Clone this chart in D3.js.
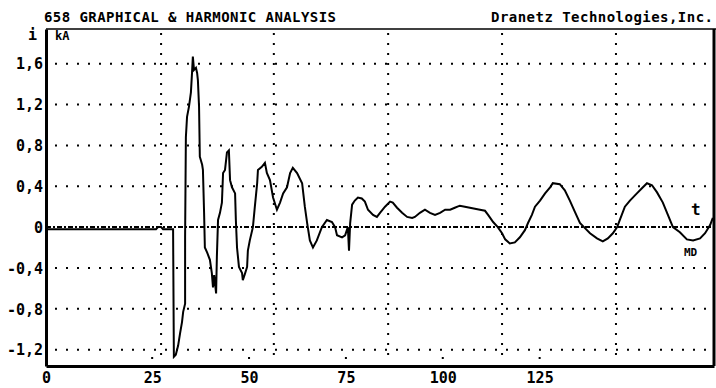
<!DOCTYPE html>
<html>
<head>
<meta charset="utf-8">
<script src="https://cdn.jsdelivr.net/npm/d3@7"></script>
<style>
  body { margin: 0; background: #fff; }
  svg text { font-family: "DejaVu Sans Mono", monospace; font-weight: bold; fill: #000; }
</style>
</head>
<body>
<script>

// time axis (ms) and current (kA)
var tValues = [-2.4, 26.0, 26.5, 27.3, 27.8, 30.4, 30.6, 31.1, 31.7, 32.2, 32.7, 33.0, 33.5, 33.5, 33.7, 34.0,
    34.5, 35.0, 35.3, 35.5, 35.8, 36.3, 36.6, 36.8, 37.1, 37.3, 37.9, 38.1, 38.4, 38.6, 39.2, 39.9, 40.4, 40.7,
    41.0, 41.5, 41.7, 42.0, 42.5, 43.0, 43.3, 43.8, 44.3, 44.8, 45.1, 45.6, 46.4, 46.6, 46.9, 47.4, 48.2, 48.4,
    49.0, 49.5, 49.7, 50.2, 51.0, 51.5, 52.1, 52.3, 53.3, 54.1, 54.6, 55.4, 56.2, 57.2, 58.0, 58.8, 59.8, 60.6,
    61.3, 62.4, 63.7, 64.4, 65.0, 65.7, 66.5, 67.5, 68.8, 70.1, 71.4, 72.2, 72.7, 74.0, 74.8, 75.5, 75.8, 76.1,
    76.6, 77.3, 78.1, 79.1, 79.9, 80.7, 82.0, 83.0, 83.8, 85.1, 86.4, 87.1, 88.2, 89.5, 90.8, 92.1, 92.8, 94.1,
    95.4, 96.7, 98.0, 99.3, 100.6, 101.9, 103.1, 104.4, 105.7, 107.0, 108.3, 109.6, 110.9, 111.7, 113.0, 114.2,
    115.3, 116.1, 117.3, 118.6, 119.9, 121.2, 122.0, 123.0, 123.8, 125.1, 126.4, 127.7, 128.4, 130.2, 131.5,
    132.8, 134.1, 135.4, 136.7, 138.0, 139.8, 141.3, 142.6, 143.9, 145.0, 145.7, 147.0, 148.3, 150.1, 151.4,
    152.7, 154.0, 155.3, 156.8, 158.1, 159.4, 161.2, 163.0, 164.6, 166.4, 167.7, 169.0, 169.7];
var iValues = [-0.02, -0.02, 0.0, 0.0, -0.02, -0.02, -1.27, -1.25, -1.16, -1.04, -0.93, -0.83, -0.75, -0.10, 0.88, 1.08,
    1.18, 1.32, 1.52, 1.67, 1.54, 1.56, 1.51, 1.44, 1.18, 0.69, 0.61, 0.56, 0.14, -0.20, -0.25, -0.32, -0.45, -0.59,
    -0.47, -0.65, -0.29, 0.07, 0.14, 0.24, 0.53, 0.56, 0.73, 0.75, 0.46, 0.39, 0.33, 0.07, -0.20, -0.39, -0.45, -0.52,
    -0.45, -0.39, -0.23, -0.13, 0.0, 0.20, 0.43, 0.56, 0.59, 0.63, 0.53, 0.46, 0.29, 0.17, 0.24, 0.33, 0.39, 0.53,
    0.58, 0.53, 0.43, 0.20, 0.04, -0.13, -0.20, -0.13, 0.0, 0.07, 0.05, 0.0, -0.08, -0.10, -0.08, 0.0, -0.23, 0.04,
    0.22, 0.26, 0.29, 0.28, 0.25, 0.17, 0.12, 0.10, 0.14, 0.20, 0.25, 0.24, 0.19, 0.14, 0.10, 0.09, 0.10, 0.14,
    0.17, 0.14, 0.12, 0.14, 0.17, 0.17, 0.19, 0.21, 0.20, 0.19, 0.18, 0.17, 0.16, 0.12, 0.05, 0.0,
    -0.06, -0.12, -0.16, -0.15, -0.10, -0.03, 0.04, 0.12, 0.20, 0.26, 0.33, 0.39, 0.43, 0.42, 0.36,
    0.26, 0.15, 0.04, -0.01, -0.06, -0.11, -0.14, -0.11, -0.06, 0.0, 0.07, 0.20, 0.26, 0.33, 0.38,
    0.43, 0.41, 0.34, 0.24, 0.12, 0.0, -0.05, -0.12, -0.13, -0.11, -0.06, 0.02, 0.09];

var yTickValues = [1.6, 1.2, 0.8, 0.4, 0, -0.4, -0.8, -1.2];
var yTickLabels = ["1,6", "1,2", "0,8", "0,4", "0", "-0,4", "-0,8", "-1,2"];
var xTickValues = [-2.4, 25, 50, 75, 100, 125];
var xTickLabels = ["0", "25", "50", "75", "100", "125"];
var xGridValues = [27.3, 56.4, 85.9, 115.3, 144.7];

var width = 716,
    height = 388,
    padL = 46, padR = 714, padT = 29, padB = 366;

var x = d3.scaleLinear().domain([-2.4, 170]).range([padL, padR]);
var y = d3.scaleLinear().domain([-1.36, 1.94]).range([padB, padT]);

var svg = d3.select("body").append("svg")
    .attr("width", width)
    .attr("height", height);

svg.append("rect").attr("width", width).attr("height", height).attr("fill", "#fff");

// header
svg.append("text").attr("x", 44).attr("y", 22).style("font-size", "14px")
    .attr("textLength", 292).text("658 GRAPHICAL & HARMONIC ANALYSIS");
svg.append("text").attr("x", 713).attr("y", 22).attr("text-anchor", "end").style("font-size", "14px")
    .attr("textLength", 222).text("Dranetz Technologies,Inc.");
svg.append("text").attr("x", 28).attr("y", 40).style("font-size", "15px").text("i");
svg.append("text").attr("x", 55).attr("y", 40).style("font-size", "12px").text("kA");

// dotted grid
svg.selectAll(".hgrid")
    .data(yTickValues.filter(function(d) { return d != 0; }))
    .enter().append("line")
    .attr("class", "hgrid")
    .attr("x1", padL + 9).attr("x2", padR - 2)
    .attr("y1", function(d) { return y(d); })
    .attr("y2", function(d) { return y(d); })
    .attr("stroke", "#000").attr("stroke-width", 2)
    .attr("stroke-dasharray", "2,9");

svg.selectAll(".vgrid")
    .data(xGridValues)
    .enter().append("line")
    .attr("class", "vgrid")
    .attr("x1", function(d) { return x(d); })
    .attr("x2", function(d) { return x(d); })
    .attr("y1", padT + 4).attr("y2", padB - 4)
    .attr("stroke", "#000").attr("stroke-width", 2)
    .attr("stroke-dasharray", "2,8");

// small tick dots under the labelled times
svg.selectAll(".xtick")
    .data(xTickValues.slice(1))
    .enter().append("rect")
    .attr("x", function(d) { return x(d) - 1; })
    .attr("y", padB - 9)
    .attr("width", 2).attr("height", 2)
    .attr("fill", "#000");

// zero line
svg.append("line")
    .attr("x1", padL).attr("x2", padR)
    .attr("y1", y(0)).attr("y2", y(0))
    .attr("stroke", "#000").attr("stroke-width", 2)
    .attr("stroke-dasharray", "5,2,2,2");

// trace
var pts = tValues.map(function(t, k) { return [t, iValues[k]]; });
var line = d3.line()
    .x(function(d) { return x(d[0]); })
    .y(function(d) { return y(d[1]); });

svg.append("path")
    .datum(pts)
    .attr("d", line)
    .attr("fill", "none")
    .attr("stroke", "#000")
    .attr("stroke-width", 2)
    .attr("stroke-linejoin", "miter");

// frame
svg.append("line").attr("x1", padL).attr("x2", padR + 2).attr("y1", padT).attr("y2", padT)
    .attr("stroke", "#000").attr("stroke-width", 1.5);
svg.append("line").attr("x1", padR).attr("x2", padR).attr("y1", padT).attr("y2", padB)
    .attr("stroke", "#000").attr("stroke-width", 3);

var yAxis = d3.axisLeft(y).tickValues(yTickValues).tickSize(0).tickPadding(3)
    .tickFormat(function(d, k) { return yTickLabels[k]; });
var xAxis = d3.axisBottom(x).tickValues(xTickValues).tickSize(0).tickPadding(6)
    .tickFormat(function(d, k) { return xTickLabels[k]; });

var gy = svg.append("g").attr("transform", "translate(" + padL + ",0)").call(yAxis);
var gx = svg.append("g").attr("transform", "translate(0," + padB + ")").call(xAxis);

[gx, gy].forEach(function(g) {
    g.select(".domain").attr("stroke", "#000").attr("stroke-width", 3);
    g.selectAll("text").style("font-size", "15px")
        .style("font-family", "'DejaVu Sans Mono', monospace").style("font-weight", "bold");
});
gy.selectAll("text").attr("dy", "0.35em");
gx.selectAll("text").attr("dy", "0.72em");

// trace annotations
svg.append("text").attr("x", 691).attr("y", 215).style("font-size", "16px").text("t");
svg.append("text").attr("x", 684).attr("y", 256).style("font-size", "11px").text("MD");

</script>
</body>
</html>
